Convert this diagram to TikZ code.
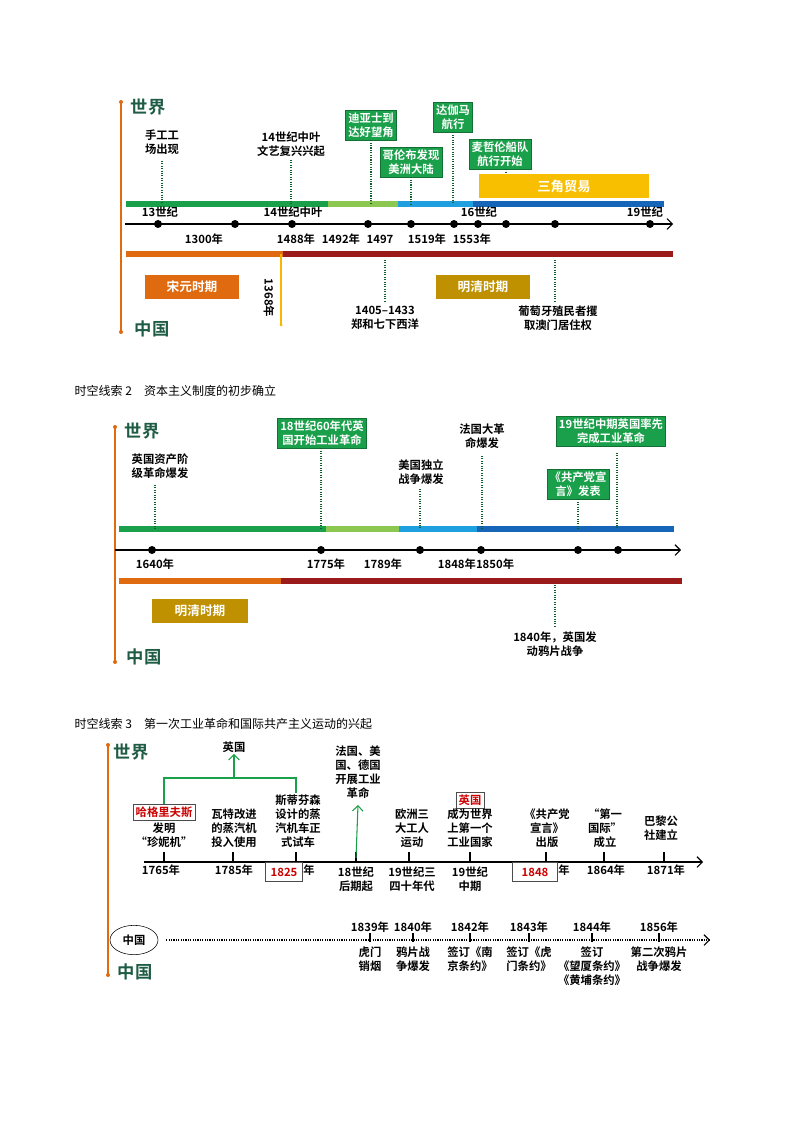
\documentclass[tikz,border=0pt]{standalone}
\usepackage{fontspec}
\setmainfont{Noto Sans CJK SC}[BoldFont={* Bold}]
\usetikzlibrary{arrows.meta,shapes.geometric}
\definecolor{bgreen}{HTML}{1AA04A}
\definecolor{lgreen}{HTML}{8CC850}
\definecolor{lblue}{HTML}{1EA0E0}
\definecolor{dblue}{HTML}{1565B8}
\definecolor{orng}{HTML}{E06A10}
\definecolor{dred}{HTML}{9B1B1B}
\definecolor{gold}{HTML}{BF9000}
\definecolor{ylw}{HTML}{F8BF00}
\definecolor{ttl}{HTML}{1F5C45}
\tikzset{
  lbl/.style={font=\bfseries\fontsize{8.5}{10.5}\selectfont, align=center, inner sep=1pt},
  gbox/.style={lbl, fill=bgreen, text=white, draw=bgreen!70!black, inner sep=2pt},
  pbox/.style={lbl, text=white, minimum height=18pt, minimum width=70pt, font=\bfseries\fontsize{9.5}{11}\selectfont},
  rbox/.style={lbl, draw=black!70, text=red!80!black, inner sep=2pt},
  dotl/.style={densely dotted, bgreen!60!black, thick},
  bar/.style={line width=4pt},
  side/.style={lbl, font=\bfseries\fontsize{13}{15}\selectfont, text=ttl},
  pin/.style={circle, fill=black, inner sep=0pt, minimum size=6pt},
  axis/.style={thick, -{Straight Barb[length=4pt]}},
  ttlfont/.style={font=\fontsize{9}{11}\selectfont, anchor=west}
}
\begin{document}
\begin{tikzpicture}[x=0.75pt,y=-0.75pt]
\useasboundingbox[fill=white] (0,0) rectangle (794,1123);

% ---- clue 1
\draw[orng, thick] (121,102) -- (121,332);
\fill[orng] (121,102) circle (2) (121,332) circle (2);
\node[side] (w1) at (148,107) {世界};
\node[side] (c1) at (152,329) {中国};

\draw[bar, bgreen] (126,204) -- (328,204);
\draw[bar, lgreen] (328,204) -- (398,204);
\draw[bar, lblue] (398,204) -- (473,204);
\draw[bar, dblue] (473,204) -- (664,204);
\draw[axis] (125,224) -- (673,224);
\foreach \x in {158,235,292,368,411,454,478,506,555,650}
  \node[pin] at (\x,224) {};
\draw[bar, orng] (126,254) -- (283,254);
\draw[bar, dred] (283,254) -- (673,254);

\node[lbl] (hand) at (162,142) {手工工\\场出现};
\node[lbl] (renai) at (291,144) {14世纪中叶\\文艺复兴兴起};
\node[gbox] (dias) at (371,125) {迪亚士到\\达好望角};
\node[gbox] (gama) at (453,117) {达伽马\\航行};
\node[gbox] (colu) at (411,162) {哥伦布发现\\美洲大陆};
\node[gbox] (mage) at (500,154) {麦哲伦船队\\航行开始};
\node[lbl, fill=ylw, text=white, minimum width=128pt, minimum height=18pt, font=\bfseries\fontsize{10}{12}\selectfont] (tri) at (564,186) {三角贸易};
\draw[dotl] (162,161) -- (162,204);
\draw[dotl] (291,160) -- (291,204);
\draw[dotl] (dias.south) -- (dias.south |- 0,204);
\draw[dotl] (gama.south) -- (gama.south |- 0,204);
\draw[dotl] (colu.south) -- (colu.south |- 0,204);
\draw[dotl] (mage.south -| 506,0) -- (506,174);

\node[lbl] at (160,212) {13世纪};
\node[lbl] at (293,212) {14世纪中叶};
\node[lbl] at (479,212) {16世纪};
\node[lbl] at (645,212) {19世纪};
\node[lbl] at (204,239) {1300年};
\node[lbl] at (296,239) {1488年};
\node[lbl] at (341,239) {1492年};
\node[lbl] at (380,239) {1497};
\node[lbl] at (427,239) {1519年};
\node[lbl] at (472,239) {1553年};

\node[pbox, fill=orng] (songyuan) at (192,287) {宋元时期};
\node[pbox, fill=gold] (mingqing) at (483,287) {明清时期};
\draw[ylw!85!orange, thick] (281,254) -- (281,325);
\fill[ylw!85!orange] (281,325) circle (1.5);
\node[lbl, rotate=-90] (y1368) at (269,298) {1368年};
\node[lbl] (zheng) at (385,318) {1405–1433\\郑和七下西洋};
\node[lbl] (macau) at (558,318) {葡萄牙殖民者攫\\取澳门居住权};
\draw[dotl] (385,260) -- (385,301);
\draw[dotl] (555,260) -- (555,301);

% ---- clue 2
\node[ttlfont] (t2) at (70,391) {时空线索 2\quad 资本主义制度的初步确立};
\draw[orng, thick] (115,427) -- (115,662);
\fill[orng] (115,427) circle (2) (115,662) circle (2);
\node[side] (w2) at (142,431) {世界};
\node[side] (c2) at (144,657) {中国};

\draw[bar, bgreen] (119,529) -- (326,529);
\draw[bar, lgreen] (326,529) -- (399,529);
\draw[bar, lblue] (399,529) -- (477,529);
\draw[bar, dblue] (477,529) -- (674,529);
\draw[axis] (115,550) -- (681,550);
\foreach \x in {152,321,420,481,578,618}
  \node[pin] at (\x,550) {};
\draw[bar, orng] (119,581) -- (281,581);
\draw[bar, dred] (281,581) -- (682,581);

\node[lbl] (eng) at (160,466) {英国资产阶\\级革命爆发};
\node[gbox] (ind18) at (322,433) {18世纪60年代英\\国开始工业革命};
\node[lbl] (fra) at (482,436) {法国大革\\命爆发};
\node[lbl] (usa) at (421,472) {美国独立\\战争爆发};
\node[gbox] (ind19) at (611,431) {19世纪中期英国率先\\完成工业革命};
\node[gbox] (mani) at (578,484) {《共产党宣\\言》发表};
\draw[dotl] (155,485) -- (155,529);
\draw[dotl] (ind18.south -| 321,0) -- (321,529);
\draw[dotl] (482,456) -- (482,529);
\draw[dotl] (420,489) -- (420,529);
\draw[dotl] (617,453) -- (617,529);
\draw[dotl] (mani.south) -- (mani.south |- 0,529);

\node[lbl] at (155,564) {1640年};
\node[lbl] at (326,564) {1775年};
\node[lbl] at (383,564) {1789年};
\node[lbl] at (476,564) {1848年1850年};
\node[pbox, fill=gold, minimum width=72pt] (mq2) at (200,611) {明清时期};
\node[lbl] (opium) at (555,644) {1840年，英国发\\动鸦片战争};
\draw[dotl] (555,585) -- (555,627);

% ---- clue 3
\node[ttlfont] (t3) at (70,724) {时空线索 3\quad 第一次工业革命和国际共产主义运动的兴起};
\draw[orng, thick] (108,745) -- (108,975);
\fill[orng] (108,745) circle (2) (108,975) circle (2);
\node[side] (w3) at (131,752) {世界};
\node[side] (c3) at (135,972) {中国};

\draw[axis] (144,862) -- (703,862);
\foreach \x in {164,233,296,356,409,470,546,604,664}
  \draw[thick] (\x,862) -- (\x,852);

\node[lbl] (brit) at (234,747) {英国};
\node[rbox] (harg) at (164,812) {哈格里夫斯};
\node[lbl] (jenny) at (164,835) {发明\\“珍妮机”};
\node[lbl] (watt) at (234,828) {瓦特改进\\的蒸汽机\\投入使用};
\node[lbl] (steph) at (298,821) {斯蒂芬森\\设计的蒸\\汽机车正\\式试车};
\coordinate (jn) at (164,778);
\coordinate (sn) at (296,778);
\draw[bgreen, thick] (harg.north) -- (jn) -- (sn) -- (steph.north -| sn);
\draw[bgreen, thick, -{Straight Barb[length=4pt]}] (234,778) -- (brit.south);
\node[lbl] (fud) at (358,772) {法国、美\\国、德国\\开展工业\\革命};
\draw[bgreen, thick, -{Straight Barb[length=4pt]}] (356,858) -- (fud.south |- 0,805);
\node[lbl] (labor) at (412,828) {欧洲三\\大工人\\运动};
\node[rbox] (brit2) at (470,800) {英国};
\node[lbl] (first) at (470,828) {成为世界\\上第一个\\工业国家};
\node[lbl] (cm) at (547,828) {《共产党\\宣言》\\出版};
\node[lbl] (intl) at (605,828) {“第一\\国际”\\成立};
\node[lbl] (paris) at (661,828) {巴黎公\\社建立};

\node[lbl] at (161,870) {1765年};
\node[lbl] at (234,870) {1785年};
\node[rbox, minimum width=28pt, minimum height=14pt] (y1825) at (284,872) {1825};
\node[lbl] at (309,870) {年};
\node[lbl] at (356,879) {18世纪\\后期起};
\node[lbl] at (412,879) {19世纪三\\四十年代};
\node[lbl] at (470,879) {19世纪\\中期};
\node[rbox, minimum width=34pt, minimum height=14pt] (y1848) at (535,872) {1848};
\node[lbl] at (564,870) {年};
\node[lbl] at (606,870) {1864年};
\node[lbl] at (666,870) {1871年};

\node[ellipse, draw, lbl, minimum width=36pt, minimum height=22pt] (cn) at (134,940) {中国};
\coordinate (cend) at (710,940);
\draw[densely dotted, thick, -{Straight Barb[length=4pt]}] (cn.east) ++(8,0) -- (cend);
\foreach \x/\yr/\txt in {370/1839/虎门\\销烟, 413/1840/鸦片战\\争爆发, 470/1842/签订《南\\京条约》,
  529/1843/签订《虎\\门条约》, 592/1844/签订\\《望厦条约》\\《黄埔条约》, 659/1856/第二次鸦片\\战争爆发}{
  \node[lbl] at (\x,927) {\yr 年};
  \draw[thick] (\x,933) -- (\x,942);
  \node[lbl, anchor=north] at (\x,945) {\txt};
}
\end{tikzpicture}
\end{document}
